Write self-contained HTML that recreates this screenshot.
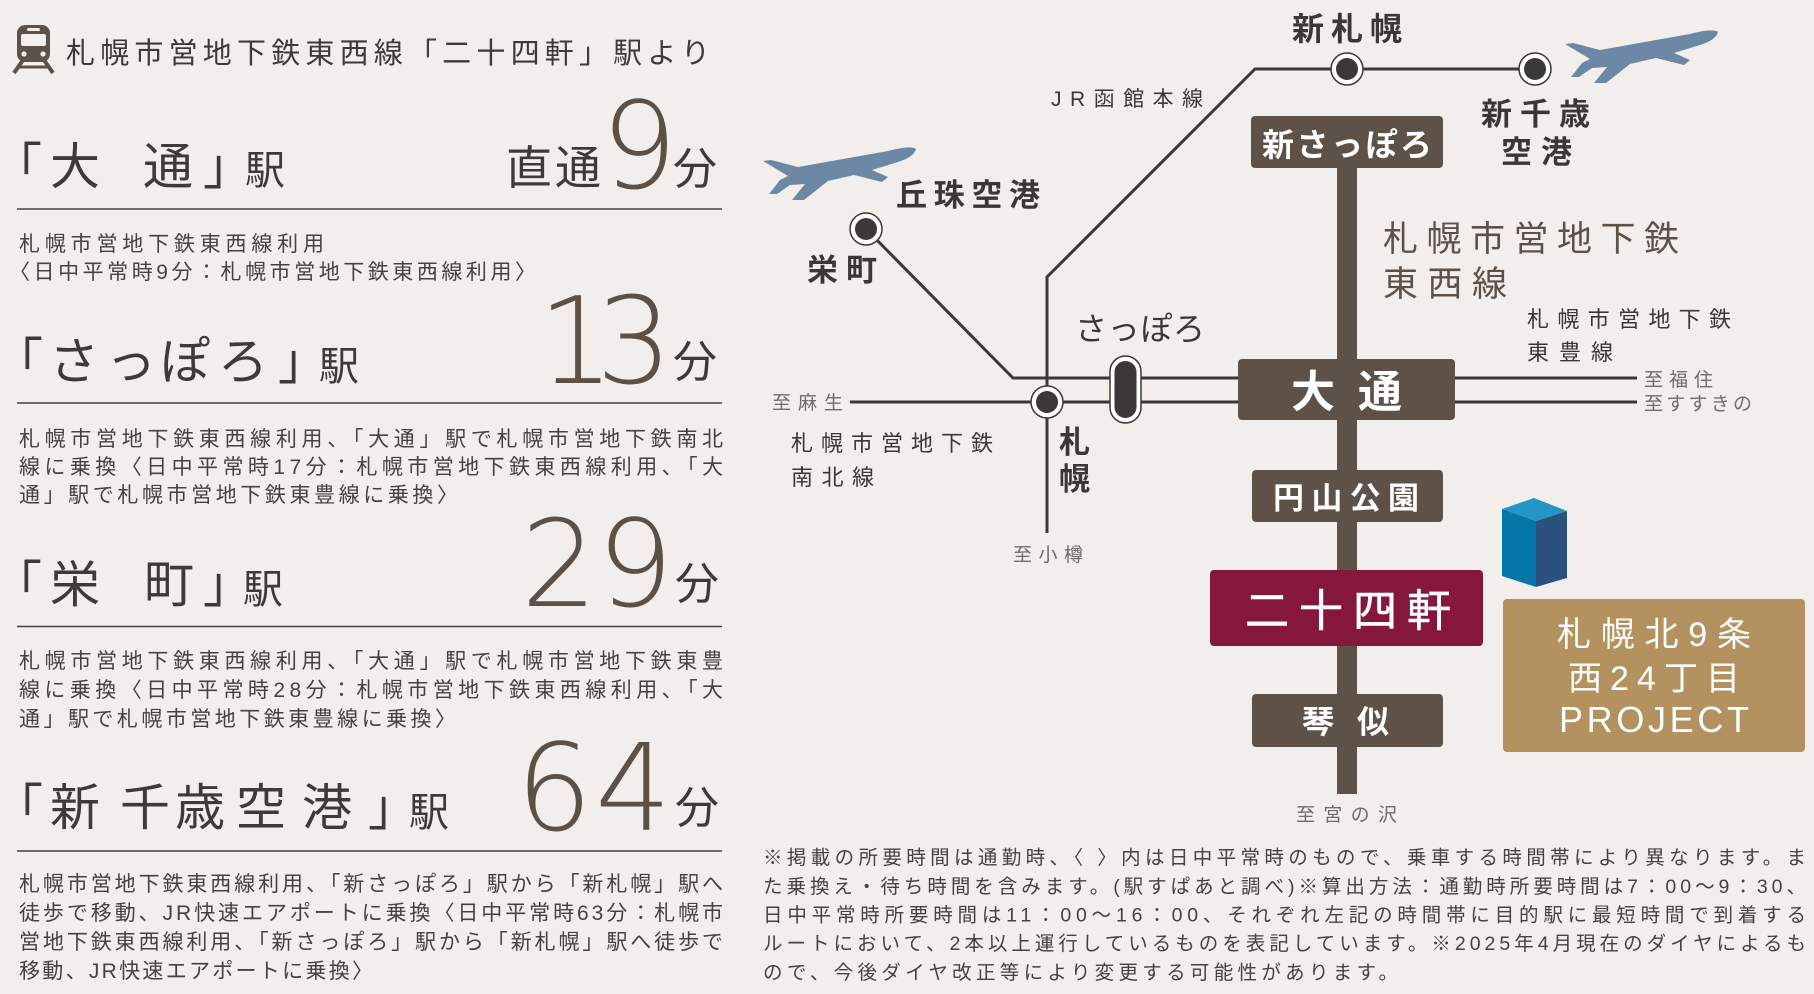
<!DOCTYPE html>
<html><head><meta charset="utf-8"><style>
html,body{margin:0;padding:0;background:#f1eeeb;}
svg{display:block;}
text{font-family:"Liberation Sans","Noto Sans CJK JP",sans-serif;}
.h{fill:#3d3a38;}
.d{fill:#454341;font-size:21px;}
.f{fill:#454341;font-size:19.5px;}
.numx{fill:#5c5047;font-size:120px;font-weight:200;}
.lb{fill:#3a3736;font-weight:700;}
.wb{fill:#ffffff;font-weight:700;}
.gr{fill:#6f6d6b;font-size:19px;}
</style></head><body>
<svg width="1814" height="994" viewBox="0 0 1814 994" xmlns="http://www.w3.org/2000/svg">
<rect x="0" y="0" width="1814" height="994" fill="#f1eeeb"/>

<!-- train icon -->
<g fill="#5e5248">
<rect x="17" y="25" width="33" height="37" rx="8"/>
<line x1="23" y1="60" x2="14" y2="73" stroke="#5e5248" stroke-width="4"/>
<line x1="44" y1="60" x2="53" y2="73" stroke="#5e5248" stroke-width="4"/>
<line x1="18" y1="67" x2="49" y2="67" stroke="#5e5248" stroke-width="3"/>
</g>
<rect x="21" y="34" width="25" height="12" rx="2" fill="#f1eeeb"/>
<rect x="27" y="28" width="13" height="3" rx="1.5" fill="#f1eeeb"/>
<circle cx="24" cy="54" r="2.6" fill="#f1eeeb"/>
<circle cx="43" cy="54" r="2.6" fill="#f1eeeb"/>

<text class="h" x="66" y="63" font-size="29" textLength="644" lengthAdjust="spacing">札幌市営地下鉄東西線「二十四軒」駅より</text>

<!-- row 1 -->
<text class="h" x="-8 50 143 203" y="184" font-size="50">「大通」</text>
<text class="h" x="245" y="184" font-size="40">駅</text>
<text class="h" x="506 555" y="184" font-size="46">直通</text>
<text class="numx" style="font-family:'DejaVu Sans',sans-serif" x="601" y="188">9</text>
<text class="h" x="673" y="184" font-size="44">分</text>
<line x1="17" y1="209" x2="722" y2="209" stroke="#444" stroke-width="1.5"/>
<text class="d" x="19" y="251" textLength="305" lengthAdjust="spacing">札幌市営地下鉄東西線利用</text>
<text class="d" x="9" y="279" textLength="527" lengthAdjust="spacing">〈日中平常時9分：札幌市営地下鉄東西線利用〉</text>

<!-- row 2 -->
<text class="h" x="-7 49 106 160 218 278" y="379" font-size="50">「さっぽろ」</text>
<text class="h" x="319" y="380" font-size="40">駅</text>
<text class="numx" style="font-family:'DejaVu Sans',sans-serif" x="538 596" y="383">13</text>
<text class="h" x="673" y="377" font-size="44">分</text>
<line x1="17" y1="403" x2="722" y2="403" stroke="#444" stroke-width="1.5"/>
<text class="d" x="19" y="446" textLength="704" lengthAdjust="spacing">札幌市営地下鉄東西線利用、「大通」駅で札幌市営地下鉄南北</text>
<text class="d" x="19" y="474" textLength="704" lengthAdjust="spacing">線に乗換〈日中平常時17分：札幌市営地下鉄東西線利用、「大</text>
<text class="d" x="19" y="502" textLength="439" lengthAdjust="spacing">通」駅で札幌市営地下鉄東豊線に乗換〉</text>

<!-- row 3 -->
<text class="h" x="-8 50 144 203" y="602" font-size="50">「栄町」</text>
<text class="h" x="243" y="603" font-size="40">駅</text>
<text class="numx" style="font-family:'DejaVu Sans',sans-serif" x="521 597" y="606">29</text>
<text class="h" x="675" y="599" font-size="44">分</text>
<line x1="17" y1="626.5" x2="722" y2="626.5" stroke="#444" stroke-width="1.5"/>
<text class="d" x="19" y="668" textLength="704" lengthAdjust="spacing">札幌市営地下鉄東西線利用、「大通」駅で札幌市営地下鉄東豊</text>
<text class="d" x="19" y="697" textLength="704" lengthAdjust="spacing">線に乗換〈日中平常時28分：札幌市営地下鉄東西線利用、「大</text>
<text class="d" x="19" y="726" textLength="437" lengthAdjust="spacing">通」駅で札幌市営地下鉄東豊線に乗換〉</text>

<!-- row 4 -->
<text class="h" x="-7 50 120 175 236 302 368" y="825" font-size="50">「新千歳空港」</text>
<text class="h" x="409" y="826" font-size="40">駅</text>
<text class="numx" style="font-family:'DejaVu Sans',sans-serif" x="516 595" y="830">64</text>
<text class="h" x="675" y="823" font-size="44">分</text>
<line x1="17" y1="851" x2="722" y2="851" stroke="#444" stroke-width="1.5"/>
<text class="d" x="19" y="891" textLength="704" lengthAdjust="spacing">札幌市営地下鉄東西線利用、「新さっぽろ」駅から「新札幌」駅へ</text>
<text class="d" x="19" y="920" textLength="704" lengthAdjust="spacing">徒歩で移動、JR快速エアポートに乗換〈日中平常時63分：札幌市</text>
<text class="d" x="19" y="949" textLength="704" lengthAdjust="spacing">営地下鉄東西線利用、「新さっぽろ」駅から「新札幌」駅へ徒歩で</text>
<text class="d" x="19" y="978" textLength="354" lengthAdjust="spacing">移動、JR快速エアポートに乗換〉</text>

<!-- ===== MAP ===== -->
<g fill="none" stroke="#3a3838" stroke-width="3">
<polyline points="1047,533 1047,277 1255,69 1535,69"/>
<polyline points="866,229 1013,378 1637,378"/>
<line x1="850" y1="402" x2="1637" y2="402"/>
</g>
<rect x="1337" y="142" width="20" height="652" fill="#5e5248"/>

<rect x="1251" y="116" width="192" height="52" rx="4" fill="#5e5248"/>
<rect x="1238" y="359" width="217" height="61" rx="4" fill="#5e5248"/>
<rect x="1252" y="470" width="191" height="52" rx="4" fill="#5e5248"/>
<rect x="1210" y="570" width="273" height="76" rx="4" fill="#85173a"/>
<rect x="1252" y="694" width="191" height="53" rx="4" fill="#5e5248"/>

<text class="wb" x="1262" y="156" font-size="32" textLength="170" lengthAdjust="spacing">新さっぽろ</text>
<text class="wb" x="1291 1358" y="407" font-size="44">大通</text>
<text class="wb" x="1273" y="509" font-size="31" textLength="146" lengthAdjust="spacing">円山公園</text>
<text x="1245" y="626" font-size="44" fill="#fff" stroke="#fff" stroke-width="0.6" textLength="206" lengthAdjust="spacing">二十四軒</text>
<text class="wb" x="1302 1357" y="733" font-size="32">琴似</text>

<g>
<circle cx="1347" cy="69" r="16" fill="#fff" stroke="#3a3838" stroke-width="1.5"/>
<circle cx="1347" cy="69" r="11" fill="#3a3838"/>
<circle cx="1535" cy="69" r="16" fill="#fff" stroke="#3a3838" stroke-width="1.5"/>
<circle cx="1535" cy="69" r="11" fill="#3a3838"/>
<circle cx="866" cy="229" r="16" fill="#fff" stroke="#3a3838" stroke-width="1.5"/>
<circle cx="866" cy="229" r="11" fill="#3a3838"/>
<circle cx="1047" cy="402" r="16" fill="#fff" stroke="#3a3838" stroke-width="1.5"/>
<circle cx="1047" cy="402" r="11" fill="#3a3838"/>
<rect x="1110" y="356" width="31" height="67" rx="15.5" fill="#fff" stroke="#3a3838" stroke-width="1.5"/>
<rect x="1114.5" y="361" width="22" height="57" rx="11" fill="#3a3838"/>
</g>

<text class="lb" x="1292" y="40" font-size="32" textLength="110" lengthAdjust="spacing">新札幌</text>
<text class="lb" x="1481" y="125" font-size="31" textLength="109" lengthAdjust="spacing">新千歳</text>
<text class="lb" x="1501" y="163" font-size="31" textLength="71" lengthAdjust="spacing">空港</text>
<text class="lb" x="896" y="206" font-size="31" textLength="144" lengthAdjust="spacing">丘珠空港</text>
<text class="lb" x="807" y="281" font-size="31" textLength="70" lengthAdjust="spacing">栄町</text>
<text x="1075" y="340" font-size="32" fill="#3a3736" textLength="130" lengthAdjust="spacing">さっぽろ</text>
<text class="lb" x="1059" y="453" font-size="31">札</text>
<text class="lb" x="1059" y="490" font-size="31">幌</text>
<text x="1051" y="106" font-size="21" fill="#3a3736" textLength="152" lengthAdjust="spacing">JR函館本線</text>

<text x="1383" y="251" font-size="35" fill="#5e5248" textLength="296" lengthAdjust="spacing">札幌市営地下鉄</text>
<text x="1383" y="296" font-size="35" fill="#5e5248" textLength="124" lengthAdjust="spacing">東西線</text>
<text x="1527" y="327" font-size="22" fill="#3a3736" textLength="204" lengthAdjust="spacing">札幌市営地下鉄</text>
<text x="1527" y="360" font-size="22" fill="#3a3736" textLength="86" lengthAdjust="spacing">東豊線</text>
<text x="791" y="451" font-size="22" fill="#3a3736" textLength="202" lengthAdjust="spacing">札幌市営地下鉄</text>
<text x="791" y="485" font-size="22" fill="#3a3736" textLength="83" lengthAdjust="spacing">南北線</text>

<text class="gr" x="772" y="409" textLength="71" lengthAdjust="spacing">至麻生</text>
<text class="gr" x="1013" y="561" textLength="70" lengthAdjust="spacing">至小樽</text>
<text class="gr" x="1644" y="386" textLength="69" lengthAdjust="spacing">至福住</text>
<text class="gr" x="1644" y="410" textLength="108" lengthAdjust="spacing">至すすきの</text>
<text class="gr" x="1296" y="821" textLength="101" lengthAdjust="spacing">至宮の沢</text>

<polygon points="1502,509 1534,498 1567,511 1536,521" fill="#2596c4"/>
<polygon points="1502,509 1536,521 1536,587 1502,576" fill="#0576a6"/>
<polygon points="1536,521 1567,511 1567,578 1536,587" fill="#2c517e"/>

<rect x="1503" y="599" width="302" height="153" rx="4" fill="#b3925f"/>
<text x="1654" y="646" font-size="34" fill="#fff" text-anchor="middle" textLength="194" lengthAdjust="spacing">札幌北9条</text>
<text x="1654" y="690" font-size="34" fill="#fff" text-anchor="middle" textLength="172" lengthAdjust="spacing">西24丁目</text>
<text x="1654" y="732" font-size="36" fill="#fff" text-anchor="middle" textLength="190" lengthAdjust="spacing">PROJECT</text>

<path fill="#6c88a5" d="M1565,44 L1573,43 L1600,50 L1690,34 Q1712,28 1718,32 Q1716,40 1700,45 L1674,53 L1690,60 L1684,65 L1656,58 L1630,64 L1606,83 L1594,83 L1607,67 L1592,68 L1579,77 L1571,77 L1582,63 L1590,59 Z"/>
<path fill="#6c88a5" transform="translate(-802,117)" d="M1565,44 L1573,43 L1600,50 L1690,34 Q1712,28 1718,32 Q1716,40 1700,45 L1674,53 L1690,60 L1684,65 L1656,58 L1630,64 L1606,83 L1594,83 L1607,67 L1592,68 L1579,77 L1571,77 L1582,63 L1590,59 Z"/>

<text class="f" x="763" y="864" textLength="1043" lengthAdjust="spacing">※掲載の所要時間は通勤時、〈 〉内は日中平常時のもので、乗車する時間帯により異なります。ま</text>
<text class="f" x="763" y="893" textLength="1043" lengthAdjust="spacing">た乗換え・待ち時間を含みます。(駅すぱあと調べ)※算出方法：通勤時所要時間は7：00〜9：30、</text>
<text class="f" x="763" y="921.5" textLength="1043" lengthAdjust="spacing">日中平常時所要時間は11：00〜16：00、それぞれ左記の時間帯に目的駅に最短時間で到着する</text>
<text class="f" x="763" y="950" textLength="1043" lengthAdjust="spacing">ルートにおいて、2本以上運行しているものを表記しています。※2025年4月現在のダイヤによるも</text>
<text class="f" x="763" y="979" textLength="635" lengthAdjust="spacing">ので、今後ダイヤ改正等により変更する可能性があります。</text>
</svg>
</body></html>
